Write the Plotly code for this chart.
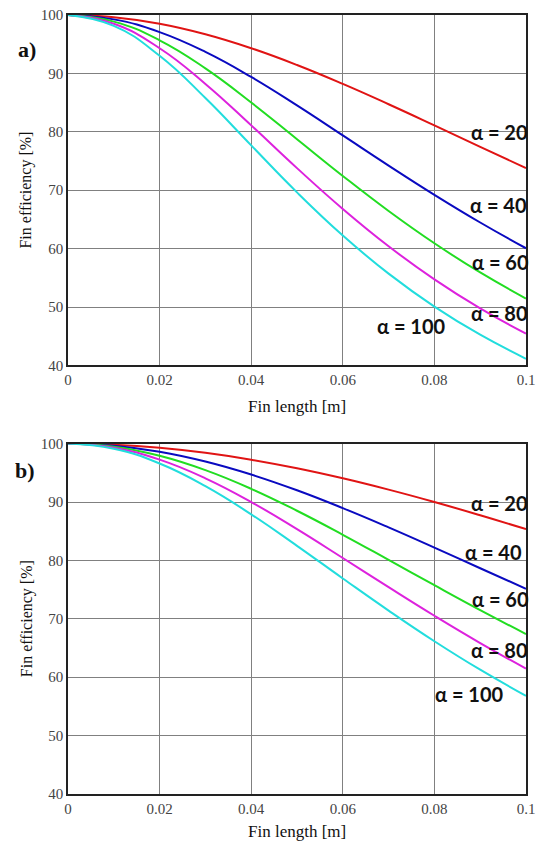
import plotly.graph_objects as go

# Fin length [m]
fin_length = [0.0, 0.01, 0.02, 0.03, 0.04, 0.05, 0.06, 0.07, 0.08, 0.09, 0.10]

alphas = [20, 40, 60, 80, 100]
colors = ["#e01414", "#0a0ac0", "#22dd22", "#dd22dd", "#22dddd"]

# Panel a) fin efficiency [%]
eff_a_20 = [100, 99.62, 98.50, 96.70, 94.31, 91.44, 88.20, 84.72, 81.10, 77.43, 73.78]
eff_a_40 = [100, 99.25, 97.07, 93.68, 89.39, 84.52, 79.38, 74.22, 69.21, 64.47, 60.06]
eff_a_60 = [100, 98.87, 95.67, 90.86, 85.02, 78.73, 72.44, 66.44, 60.91, 55.91, 51.45]
eff_a_80 = [100, 98.50, 94.31, 88.20, 81.10, 73.78, 66.79, 60.40, 54.73, 49.76, 45.45]
eff_a_100 = [100, 98.14, 93.02, 85.78, 77.67, 69.63, 62.24, 55.71, 50.07, 45.25, 41.14]

# Panel b) fin efficiency [%]
eff_b_20 = [100, 99.82, 99.30, 98.43, 97.25, 95.78, 94.06, 92.12, 90.00, 87.73, 85.35]
eff_b_40 = [100, 99.65, 98.61, 96.93, 94.70, 92.01, 88.95, 85.65, 82.19, 78.66, 75.14]
eff_b_60 = [100, 99.47, 97.92, 95.46, 92.26, 88.50, 84.39, 80.09, 75.75, 71.49, 67.39]
eff_b_80 = [100, 99.30, 97.25, 94.06, 90.00, 85.35, 80.41, 75.41, 70.52, 65.85, 61.48]
eff_b_100 = [100, 99.12, 96.60, 92.72, 87.89, 82.50, 76.91, 71.41, 66.16, 61.28, 56.81]

series_a = [eff_a_20, eff_a_40, eff_a_60, eff_a_80, eff_a_100]
series_b = [eff_b_20, eff_b_40, eff_b_60, eff_b_80, eff_b_100]

# Curve label anchors (x [m], efficiency [%])
label_pos_a = [(0.0942, 80.0), (0.0941, 67.5), (0.0944, 57.7), (0.0942, 49.0), (0.0750, 46.8)]
label_pos_b = [(0.0942, 89.8), (0.0929, 81.5), (0.0944, 73.4), (0.0942, 64.7), (0.0877, 57.2)]

x_ticks = [0, 0.02, 0.04, 0.06, 0.08, 0.1]
x_tick_text = ["0", "0.02", "0.04", "0.06", "0.08", "0.1"]
y_ticks = [40, 50, 60, 70, 80, 90, 100]

SERIF = "Liberation Serif, Times New Roman, serif"
SANS = "Lato, Carlito, Open Sans, sans-serif"

fig = go.Figure()

for panel, series in (("", series_a), ("2", series_b)):
    for a, ys, c in zip(alphas, series, colors):
        fig.add_trace(go.Scatter(
            x=fin_length, y=ys, mode="lines",
            line=dict(color=c, width=2, shape="spline", smoothing=1.3),
            xaxis="x" + panel, yaxis="y" + panel,
            showlegend=False, hoverinfo="skip",
            name=f"α = {a}",
        ))

axis_common = dict(
    showline=True, linecolor="#222", linewidth=1.5, mirror=True,
    showgrid=True, gridcolor="#808080", gridwidth=1,
    zeroline=False, ticks="",
    tickfont=dict(family=SERIF, size=15, color="#444"),
)

fig.update_layout(
    width=542, height=847,
    margin=dict(l=68, r=12, t=7, b=53),
    paper_bgcolor="white", plot_bgcolor="white",
    xaxis=dict(domain=[0, 1], range=[0, 0.1], tickvals=x_ticks, ticktext=x_tick_text,
               anchor="y", **axis_common),
    yaxis=dict(domain=[0.5502, 1], range=[40, 100], tickvals=y_ticks,
               anchor="x", **axis_common),
    xaxis2=dict(domain=[0, 1], range=[0, 0.1], tickvals=x_ticks, ticktext=x_tick_text,
                anchor="y2", **axis_common),
    yaxis2=dict(domain=[0, 0.4498], range=[40, 100], tickvals=y_ticks,
                anchor="x2", **axis_common),
)

annotations = []
for (xr, yr), positions in (("x", "y"), label_pos_a), (("x2", "y2"), label_pos_b):
    for a, (lx, ly) in zip(alphas, positions):
        annotations.append(dict(
            x=lx, y=ly, xref=xr, yref=yr, text=f"<b>α = {a}</b>",
            showarrow=False, xanchor="center", yanchor="middle",
            font=dict(family=SANS, size=20, color="#111"),
        ))

# Panel letters
annotations.append(dict(x=-0.0887, y=0.9555, xref="paper", yref="paper", text="<b>a)</b>",
                        showarrow=False, xanchor="center", yanchor="middle",
                        font=dict(family=SERIF, size=22, color="#111")))
annotations.append(dict(x=-0.093, y=0.4155, xref="paper", yref="paper", text="<b>b)</b>",
                        showarrow=False, xanchor="center", yanchor="middle",
                        font=dict(family=SERIF, size=22, color="#111")))

# Axis titles
for ty in (0.4968, -0.0483):
    annotations.append(dict(x=0.5, y=ty, xref="paper", yref="paper", text="Fin length [m]",
                            showarrow=False, xanchor="center", yanchor="middle",
                            font=dict(family=SERIF, size=17, color="#111")))
for ty in (0.7751, 0.2249):
    annotations.append(dict(x=-0.0909, y=ty, xref="paper", yref="paper", text="Fin efficiency [%]",
                            showarrow=False, xanchor="center", yanchor="middle", textangle=-90,
                            font=dict(family=SERIF, size=16, color="#111")))

fig.update_layout(annotations=annotations)

fig.write_html("out.html")
